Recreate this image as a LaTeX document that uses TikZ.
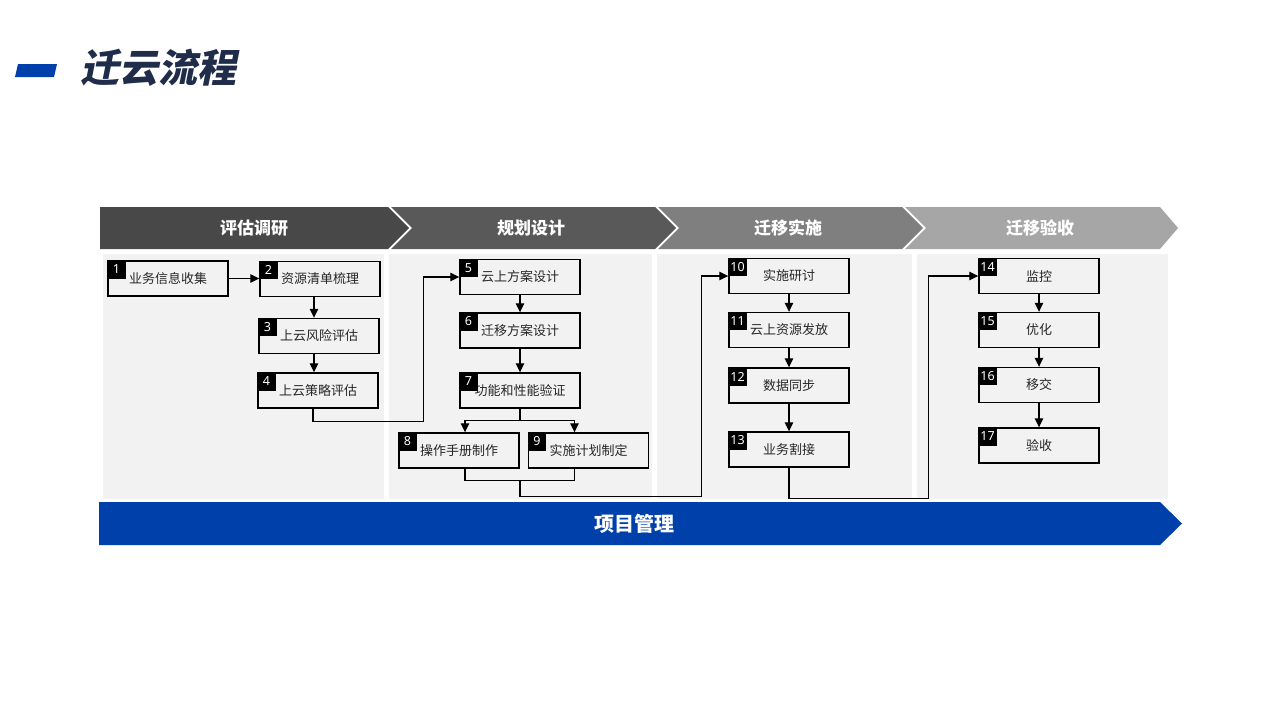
\documentclass[tikz,border=0pt]{standalone}
\usepackage{fontspec}
\newfontfamily\cjk{Noto Sans CJK SC}
\newfontfamily\cjktitle[FakeSlant=0.2]{Noto Sans CJK SC}
\newfontfamily\numfont{Noto Sans}
\usetikzlibrary{arrows.meta,calc}
\definecolor{TitleNavy}{RGB}{31,44,74}
\definecolor{BarBlue}{RGB}{0,64,170}
\definecolor{PanelGray}{RGB}{242,242,242}
\definecolor{StageA}{RGB}{72,72,72}
\definecolor{StageB}{RGB}{89,89,89}
\definecolor{StageC}{RGB}{127,127,127}
\definecolor{StageD}{RGB}{166,166,166}
\definecolor{TextDark}{RGB}{38,38,38}

\begin{document}
\begin{tikzpicture}[x=1pt,y=-1pt,>={Triangle[length=9pt,width=8.5pt]},
  stepbox/.style={draw,line width=1.4pt,fill=PanelGray,minimum width=120pt,
    minimum height=35pt,inner sep=0pt,text=TextDark,
    font=\cjk\fontsize{13}{13}\selectfont},
  numtag/.style={fill=black,text=white,anchor=north west,minimum width=18pt,
    minimum height=18pt,inner sep=1pt,font=\numfont\fontsize{12.5}{12.5}\selectfont},
  flow/.style={->,line width=1.2pt},
  link/.style={line width=1.2pt},
  stagetext/.style={text=white,font=\cjk\bfseries\fontsize{17}{17}\selectfont}]
  \fill[white] (0,0) rectangle (1280,720);
  \useasboundingbox (0,0) rectangle (1280,720);
  % title
  \fill[BarBlue] (18,64) -- (57,64) -- (54,77) -- (15,77) -- cycle;
  \node[text=TitleNavy,font=\cjktitle\bfseries\fontsize{39}{39}\selectfont,
    anchor=west,inner sep=0pt] (title) at (80,68) {迁云流程};
  % stage headers
  \fill[StageA] (100,207) -- (388,207) -- (409,228) -- (388,249) -- (100,249) -- cycle;
  \fill[StageB] (391,207) -- (655,207) -- (676,228) -- (655,249) -- (391,249)
    -- (412,228) -- cycle;
  \fill[StageC] (658,207) -- (902,207) -- (923,228) -- (902,249) -- (658,249)
    -- (679,228) -- cycle;
  \fill[StageD] (905,207) -- (1160,207) -- (1178,228) -- (1160,249) -- (905,249)
    -- (926,228) -- cycle;
  \node[stagetext] (stage1) at (254,228) {评估调研};
  \node[stagetext] (stage2) at (531,228) {规划设计};
  \node[stagetext] (stage3) at (788,228) {迁移实施};
  \node[stagetext] (stage4) at (1040,228) {迁移验收};
  % panels
  \fill[PanelGray] (103,254) rectangle (384,499);
  \fill[PanelGray] (389,254) rectangle (652,499);
  \fill[PanelGray] (657,254) rectangle (912,499);
  \fill[PanelGray] (917,254) rectangle (1168,499);
  % project management bar
  \fill[BarBlue] (99,502) -- (1160,502) -- (1182,523.5) -- (1160,545) -- (99,545) -- cycle;
  \node[text=white,font=\cjk\bfseries\fontsize{20}{20}\selectfont] (pm) at (634,524) {项目管理};

  % steps
  \node[stepbox] (b1) at (168,278.5) {业务信息收集};
  \node[stepbox] (b2) at (320,279) {资源清单梳理};
  \node[stepbox] (b3) at (319,336) {上云风险评估};
  \node[stepbox] (b4) at (318,390.5) {上云策略评估};
  \node[stepbox] (b5) at (520,277) {云上方案设计};
  \node[stepbox] (b6) at (520,330.5) {迁移方案设计};
  \node[stepbox] (b7) at (520,390.5) {功能和性能验证};
  \node[stepbox] (b8) at (459,450.5) {操作手册制作};
  \node[stepbox] (b9) at (588.5,450.5) {实施计划制定};
  \node[stepbox] (b10) at (789,276) {实施研讨};
  \node[stepbox] (b11) at (789,330) {云上资源发放};
  \node[stepbox] (b12) at (789,385.5) {数据同步};
  \node[stepbox] (b13) at (789,449.5) {业务割接};
  \node[stepbox] (b14) at (1039,276) {监控};
  \node[stepbox] (b15) at (1039,330) {优化};
  \node[stepbox] (b16) at (1039,385) {移交};
  \node[stepbox] (b17) at (1039,445.5) {验收};
  \foreach \n in {1,...,17}
    \node[numtag] (t\n) at (b\n.north west) {\n};

  % connectors
  \draw[flow] (b1.east) -- (b1.east -| b2.west);
  \draw[flow] ([xshift=-6pt]b2.south) -- ([xshift=-6pt]b2.south |- b3.north);
  \draw[flow] ([xshift=-5pt]b3.south) -- ([xshift=-5pt]b3.south |- b4.north);
  \draw[flow] ([xshift=-5pt]b4.south) -- ++(0,13) -| ($(b5.west)+(-36,0)$) -- (b5.west);
  \draw[flow] (b5.south) -- (b6.north);
  \draw[flow] (b6.south) -- (b7.north);
  \coordinate (split7) at ($(b7.south)+(0,12)$);
  \draw[link] (b7.south) -- (split7);
  \draw[flow] (split7) -| ([xshift=6pt]b8.north);
  \draw[flow] (split7) -| ([xshift=-14pt]b9.north);
  \draw[link] ([xshift=6pt]b8.south) -- ++(0,12) -| ([xshift=-14pt]b9.south);
  \coordinate (join89) at ($(b7.south |- b8.south)+(0,12)$);
  \draw[flow] (join89) -- ++(0,16) -| ($(b10.west)+(-27,0)$) -- (b10.west);
  \draw[flow] (b10.south) -- (b11.north);
  \draw[flow] (b11.south) -- (b12.north);
  \draw[flow] (b12.south) -- (b13.north);
  \draw[flow] (b13.south) -- ++(0,31) -| ($(b14.west)+(-50,0)$) -- (b14.west);
  \draw[flow] (b14.south) -- (b15.north);
  \draw[flow] (b15.south) -- (b16.north);
  \draw[flow] (b16.south) -- (b17.north);
\end{tikzpicture}
\end{document}
